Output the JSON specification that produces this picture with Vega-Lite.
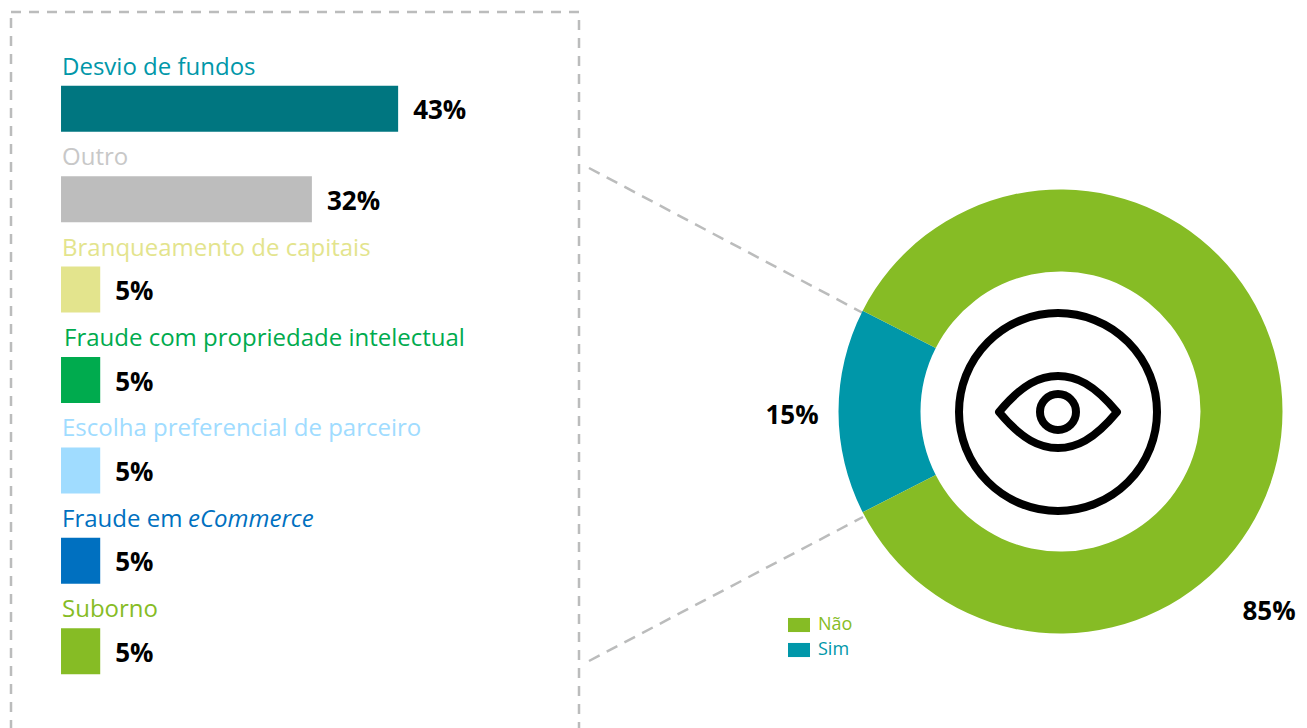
{
"$schema":"https://vega.github.io/schema/vega-lite/v6.json",
"padding":{"left":9,"top":10,"right":0,"bottom":0},
"autosize":{"type":"pad"},
"background":"white",
"spacing":6,
"config":{"font":"Open Sans","view":{"stroke":null},"concat":{"spacing":6}},
"resolve":{"scale":{"color":"independent"}},
"datasets":{
"cats":[
{"cat":"Desvio de fundos","val":43,"label":"43%"},
{"cat":"Outro","val":32,"label":"32%"},
{"cat":"Branqueamento de capitais","val":5,"label":"5%"},
{"cat":"Fraude com propriedade intelectual","val":5,"label":"5%"},
{"cat":"Escolha preferencial de parceiro","val":5,"label":"5%"},
{"cat":"Fraude em eCommerce","val":5,"label":"5%"},
{"cat":"Suborno","val":5,"label":"5%"}
],
"donut":[
{"resp":"Sim","pct":15,"ord":1},
{"resp":"Não","pct":85,"ord":2}
],
"connectors":[
{"x":1,"y":156,"x2":275,"y2":301},
{"x":1,"y":649,"x2":275,"y2":505}
]
},
"hconcat":[
{
"width":568,"height":736,
"view":{"stroke":"#bbbcbc","strokeWidth":2.5,"strokeDash":[10,8]},
"data":{"name":"cats"},
"encoding":{
"y":{"field":"cat","type":"nominal","sort":null,"axis":null,"scale":{"paddingOuter":0.57,"paddingInner":0}},
"x":{"field":"val","type":"quantitative","axis":null,"scale":{"domain":[-6.38,66.07],"zero":false,"nice":false}},
"color":{"field":"cat","type":"nominal","sort":null,"legend":null,"scale":{"domain":["Desvio de fundos","Outro","Branqueamento de capitais","Fraude com propriedade intelectual","Escolha preferencial de parceiro","Fraude em eCommerce","Suborno"],"range":["#007680","#bdbdbd","#e3e48d","#00ab4e","#a0dcff","#0070c0","#86bc25"]}}
},
"layer":[
{"mark":{"type":"bar","height":46}},
{"mark":{"type":"text","align":"left","baseline":"middle","dx":15,"dy":2.5,"fontSize":26,"fontWeight":"bold"},
 "encoding":{"text":{"field":"label"},"color":{"value":"black"}}},
{"transform":[{"filter":"datum.cat==='Desvio de fundos'"}],
 "mark":{"type":"text","align":"left","baseline":"middle","dy":-41,"dx":1,"fontSize":24},
 "encoding":{"x":{"datum":0},"text":{"field":"cat"},"color":{"value":"#0097a9"}}},
{"transform":[{"filter":"datum.cat==='Outro'"}],
 "mark":{"type":"text","align":"left","baseline":"middle","dy":-41,"dx":1,"fontSize":24},
 "encoding":{"x":{"datum":0},"text":{"field":"cat"},"color":{"value":"#c8c8c8"}}},
{"transform":[{"filter":"datum.cat==='Branqueamento de capitais' || datum.cat==='Escolha preferencial de parceiro' || datum.cat==='Suborno'"}],
 "mark":{"type":"text","align":"left","baseline":"middle","dy":-41,"dx":1,"fontSize":24},
 "encoding":{"x":{"datum":0},"text":{"field":"cat"}}},
{"transform":[{"filter":"datum.cat==='Fraude com propriedade intelectual'"}],
 "mark":{"type":"text","align":"left","baseline":"middle","dy":-41,"dx":3,"fontSize":24},
 "encoding":{"x":{"datum":0},"text":{"field":"cat"}}},
{"transform":[{"filter":"datum.cat==='Fraude em eCommerce'"}],
 "mark":{"type":"text","align":"left","baseline":"middle","dy":-41,"dx":1,"fontSize":24},
 "encoding":{"x":{"datum":0},"text":{"value":"Fraude em"}}},
{"transform":[{"filter":"datum.cat==='Fraude em eCommerce'"}],
 "mark":{"type":"text","align":"left","baseline":"middle","dy":-41,"dx":127,"fontSize":24,"fontStyle":"italic"},
 "encoding":{"x":{"datum":0},"text":{"value":"eCommerce"}}}
]
},
{
"width":722,"height":736,
"encoding":{
"x":{"type":"quantitative","axis":null,"scale":{"domain":[0,722],"nice":false,"zero":false}},
"y":{"type":"quantitative","axis":null,"scale":{"domain":[736,0],"nice":false,"zero":false}}
},
"layer":[
{"data":{"name":"connectors"},
 "mark":{"type":"rule","color":"#bbbcbc","strokeWidth":2.5,"strokeDash":[12,8]},
 "encoding":{"x":{"field":"x","type":"quantitative"},"y":{"field":"y","type":"quantitative"},"x2":{"field":"x2"},"y2":{"field":"y2"}}},
{"data":{"name":"donut"},
 "mark":{"type":"arc","radius":222,"radius2":140},
 "encoding":{
  "x":{"datum":472.5},"y":{"datum":399.5},
  "theta":{"field":"pct","type":"quantitative","stack":true,"scale":{"domain":[0,100],"range":[4.2412,10.5244]}},
  "order":{"field":"ord"},
  "color":{"field":"resp","type":"nominal","scale":{"domain":["Não","Sim"],"range":["#86bc25","#0097a9"]},
   "legend":{"title":null,"orient":"none","legendX":199,"legendY":601,"symbolType":"M-1,-0.64H1V0.64H-1Z","symbolSize":484,"labelFontSize":18,"labelOffset":7,"rowPadding":4,"padding":0,
   "encode":{"labels":{"update":{"fill":{"signal":"datum.label==='Sim'?'#0097a9':'#86bc25'"}}}}}}
 }},
{"data":{"values":[{"pos":"ring"}]},
 "mark":{"type":"point","shape":"circle","size":39204,"filled":false,"stroke":"black","strokeWidth":8,"opacity":1},
 "encoding":{"x":{"datum":470},"y":{"datum":400}}},
{"data":{"values":[{"pos":"eye"}]},
 "mark":{"type":"point","shape":"M-1,0C-0.6,-0.48 -0.3,-0.61 0,-0.61C0.3,-0.61 0.6,-0.48 1,0C0.6,0.48 0.3,0.61 0,0.61C-0.3,0.61 -0.6,0.48 -1,0Z","size":13924,"filled":false,"stroke":"black","strokeWidth":8,"strokeJoin":"round","opacity":1},
 "encoding":{"x":{"datum":470},"y":{"datum":400}}},
{"data":{"values":[{"pos":"iris"}]},
 "mark":{"type":"point","shape":"circle","size":1296,"filled":false,"stroke":"black","strokeWidth":8,"opacity":1},
 "encoding":{"x":{"datum":470},"y":{"datum":400}}},
{"data":{"values":[{"t":"15%","px":204,"py":404},{"t":"85%","px":681,"py":600}]},
 "mark":{"type":"text","fontSize":26,"fontWeight":"bold","color":"black"},
 "encoding":{"x":{"field":"px","type":"quantitative"},"y":{"field":"py","type":"quantitative"},"text":{"field":"t"}}}
]
}
]
}
